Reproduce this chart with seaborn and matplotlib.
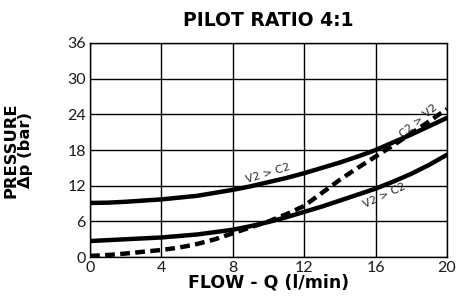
import matplotlib
matplotlib.use("Agg")
import matplotlib.pyplot as plt
import seaborn as sns
import pandas as pd

flow = [0, 1, 2, 3, 4, 5, 6, 7, 8, 9, 10, 11, 12, 13, 14, 15, 16, 17, 18, 19, 20]
upper_v2_c2 = [9.1, 9.15, 9.3, 9.5, 9.7, 10.0, 10.3, 10.8, 11.3, 11.9, 12.6, 13.3, 14.1, 15.0, 15.9, 16.9, 18.0, 19.3, 20.6, 22.0, 23.4]
lower_v2_c2 = [2.7, 2.85, 3.0, 3.15, 3.3, 3.55, 3.8, 4.2, 4.6, 5.2, 5.9, 6.7, 7.6, 8.5, 9.5, 10.5, 11.5, 12.7, 14.0, 15.5, 17.2]
c2_v2 = [0.2, 0.35, 0.6, 0.9, 1.2, 1.6, 2.2, 3.0, 4.0, 5.0, 6.0, 7.2, 8.6, 10.8, 13.0, 15.0, 16.9, 18.8, 20.8, 22.8, 24.9]

series_names = ["V2 > C2 (upper)", "V2 > C2 (lower)", "C2 > V2"]
x_ticks = [0, 4, 8, 12, 16, 20]
y_ticks = [0, 6, 12, 18, 24, 30, 36]

df = pd.DataFrame({
    "flow": flow * 3,
    "pressure": upper_v2_c2 + lower_v2_c2 + c2_v2,
    "series": sum([[n] * len(flow) for n in series_names], []),
})

sns.set_theme(style="white")
plt.rcParams['font.family'] = ['DejaVu Sans']

fig = plt.figure(figsize=(4.57, 3.0), dpi=100)
ax = fig.add_axes([0.197, 0.143, 0.781, 0.714])

sns.lineplot(data=df, x="flow", y="pressure", hue="series", style="series",
             palette=["black", "black", "black"],
             dashes={series_names[0]: "", series_names[1]: "", series_names[2]: (2.2, 1.2)},
             linewidth=3.2, legend=False, ax=ax, estimator=None)

ax.set_xlim(0, 20)
ax.set_ylim(0, 36)
ax.set_xticks(x_ticks)
ax.set_yticks(y_ticks)
ax.tick_params(length=0, labelsize=11.5, pad=3, colors="#1a1a1a")
for lab in ax.get_xticklabels() + ax.get_yticklabels():
    lab.set_family(["Lato", "DejaVu Sans"])
    lab.set_fontweight("normal")
ax.grid(True, color="black", linewidth=1.0)
for s in ax.spines.values():
    s.set_color("black")
    s.set_linewidth(1.0)

ax.set_title("PILOT RATIO 4:1", fontsize=13.5, fontweight="bold", pad=12, color="black")
ax.set_xlabel("FLOW - Q (l/min)", fontsize=12.5, fontweight="bold", labelpad=-1, color="black")
ax.set_ylabel("PRESSURE\n\u0394p (bar)", fontsize=11.8, fontweight="bold", linespacing=0.95, color="black")
ax.yaxis.set_label_coords(-0.16, 0.5)

ax.text(10.0, 14.0, "V2 > C2", fontsize=8, rotation=17, ha="center", va="center")
ax.text(16.5, 10.3, "V2 > C2", fontsize=8, rotation=25, ha="center", va="center")
ax.text(18.4, 22.8, "C2 > V2", fontsize=8, rotation=40, ha="center", va="center")

fig.savefig("out.png", dpi=100)
